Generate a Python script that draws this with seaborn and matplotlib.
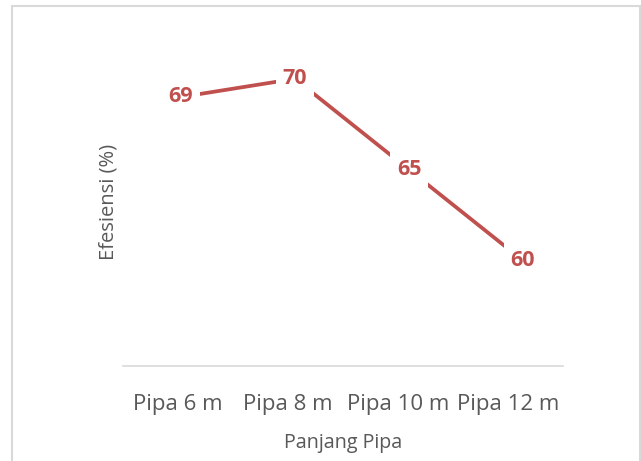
import matplotlib
matplotlib.use("Agg")
import matplotlib.pyplot as plt
import matplotlib.transforms as mtransforms
from matplotlib.patches import Rectangle
import seaborn as sns
import pandas as pd

categories = ["Pipa 6 m", "Pipa 8 m", "Pipa 10 m", "Pipa 12 m"]
efisiensi = [69, 70, 65, 60]
x_title = "Panjang Pipa"
y_title = "Efesiensi (%)"

sns.set_theme(style="white")
plt.rcParams["font.family"] = ["Open Sans", "DejaVu Sans"]

df = pd.DataFrame({"kategori": categories, "nilai": efisiensi})

fig = plt.figure(figsize=(6.41, 4.61), dpi=100)
ax = fig.add_axes([123 / 641, 1 - 366 / 461, 440 / 641, 329 / 461])

line_color = "#C0504D"
sns.lineplot(data=df, x="kategori", y="nilai", sort=False, ax=ax,
             color=line_color, linewidth=2.7, zorder=2)

for i, v in enumerate(efisiensi):
    ax.text(i, v, str(v), ha="center", va="center", fontsize=15.5,
            fontweight="bold", color=line_color, zorder=3,
            bbox=dict(facecolor="white", edgecolor="none", pad=5))

ax.set_xlim(-0.509, 3.351)
ax.set_ylim(54.2, 72.3)
ax.set_yticks([])
ax.set_xticks(range(len(categories)))
ax.set_xticklabels(categories, fontsize=16, color="#595959")
ax.tick_params(axis="x", length=0, pad=20)
for i, lbl in enumerate(ax.get_xticklabels()):
    dx = -(3 + 4 * i) / 100
    lbl.set_transform(lbl.get_transform() +
                      mtransforms.ScaledTranslation(dx, 0, fig.dpi_scale_trans))

for s in ["top", "right", "left"]:
    ax.spines[s].set_visible(False)
ax.spines["bottom"].set_color("#D9D9D9")
ax.spines["bottom"].set_linewidth(1.2)

ax.set_xlabel(x_title, fontsize=14.2, color="#595959", labelpad=13)
ax.set_ylabel(y_title, fontsize=14.5, color="#595959", labelpad=3)

fig.patches.append(Rectangle((12 / 641, -0.05), 1 - 12 / 641 - 1.5 / 641, 1.05 - 6 / 461,
                             transform=fig.transFigure, fill=False,
                             edgecolor="#D9D9D9", linewidth=1.5))

fig.savefig("out.png", dpi=100, facecolor="white")
